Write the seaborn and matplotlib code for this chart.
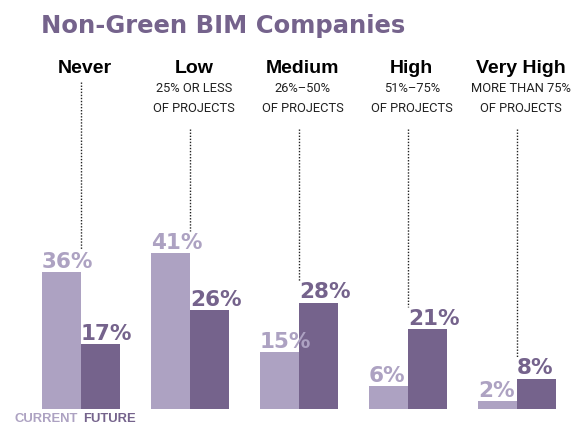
import matplotlib
matplotlib.use("Agg")
import matplotlib.pyplot as plt
import seaborn as sns
import pandas as pd

# data
levels = ["Never", "Low", "Medium", "High", "Very High"]
sublines = [
    [],
    ["25% OR LESS", "OF PROJECTS"],
    ["26%\u201350%", "OF PROJECTS"],
    ["51%\u201375%", "OF PROJECTS"],
    ["MORE THAN 75%", "OF PROJECTS"],
]
current = [36, 41, 15, 6, 2]
future = [17, 26, 28, 21, 8]
periods = ["CURRENT", "FUTURE"]

LIGHT = "#ADA2C2"
DARK = "#75638C"

df = pd.DataFrame({
    "level": levels * 2,
    "period": [periods[0]] * len(levels) + [periods[1]] * len(levels),
    "pct": current + future,
})

sns.set_style("white")

W, H = 583, 424
fig = plt.figure(figsize=(W / 100, H / 100), dpi=100)
ax = fig.add_axes([0, 0, 1, 1])

sns.barplot(data=df, x="level", y="pct", hue="period", palette=[LIGHT, DARK],
            width=0.72, gap=0, saturation=1, errorbar=None, legend=False,
            linewidth=0, ax=ax)

# pixel layout: group 0 centred at x=81px, 109px per group, baseline 15px up, 3.8px per %
PX_X, X0 = 109, 81
PX_Y, BASE = 3.8, 15
ax.set_xlim(-X0 / PX_X, (W - X0) / PX_X)
ax.set_ylim(-BASE / PX_Y, (H - BASE) / PX_Y)
ax.axis("off")

ymax = (H - BASE) / PX_Y

# value labels over the bars
for cont, vals, col in zip(ax.containers, [current, future], [LIGHT, DARK]):
    for bar, v in zip(cont, vals):
        ax.annotate(f"{v}%", xy=(bar.get_x(), bar.get_height()), xytext=(0, 3),
                    textcoords="offset points", ha="left", va="baseline",
                    fontsize=15.5, fontweight="bold", color=col,
                    family="DejaVu Sans")

# headers and dotted leader lines
tr = ax.get_xaxis_transform()
for i, (lvl, subs) in enumerate(zip(levels, sublines)):
    ax.text(i + 0.035, 1 - 73 / H, lvl, transform=tr, ha="center", va="baseline",
            fontsize=14, fontweight="bold", family="Liberation Sans", color="black")
    for k, s in enumerate(subs):
        ax.text(i + 0.035, 1 - (92 + 20 * k) / H, s, transform=tr, ha="center",
                va="baseline", fontsize=9.3, family="Roboto", color="#222222")
    start_px = 129 if subs else 82
    top = max(current[i], future[i]) + 5.8
    ax.plot([i, i], [ymax - start_px / PX_Y, top], color="#222222", lw=1.0,
            linestyle=(0, (1, 1.2)))

# title
fig.text(41 / W, 1 - 33 / H, "Non-Green BIM Companies", ha="left", va="baseline",
         fontsize=17.5, fontweight="bold", color=DARK, family="DejaVu Sans")

# series key under the first group
fig.text(78 / W, 1.5 / H, periods[0], ha="right", va="baseline", fontsize=9.4,
         fontweight="bold", color=LIGHT, family="Liberation Sans")
fig.text(83 / W, 1.5 / H, periods[1], ha="left", va="baseline", fontsize=9.4,
         fontweight="bold", color=DARK, family="Liberation Sans")

fig.savefig("out.png", dpi=100)
